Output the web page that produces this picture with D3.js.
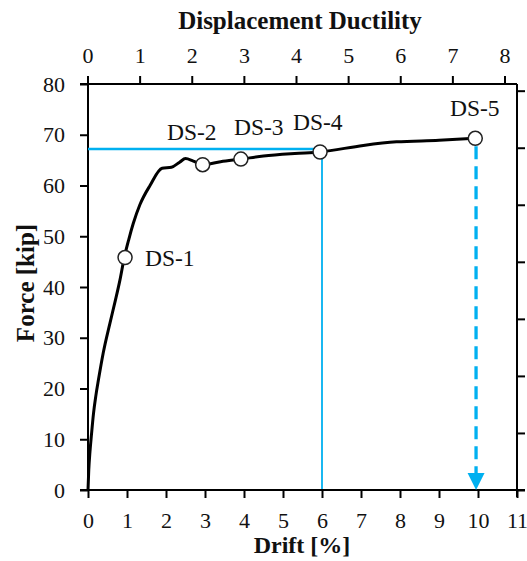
<!DOCTYPE html>
<html><head><meta charset="utf-8">
<script src="https://cdn.jsdelivr.net/npm/d3@7"></script>
<style>
body{margin:0;background:#fff}
svg{display:block}
text{font-family:"Liberation Serif","Times New Roman",serif;fill:#111}
</style>
</head><body><div id="chart"></div>
<script>
// ---- data ----
const driftTicks = [0,1,2,3,4,5,6,7,8,9,10,11];
const ductilityTicks = [0,1,2,3,4,5,6,7,8];
const forceTicks = [0,10,20,30,40,50,60,70,80];
const kNTicks = [0,50,100,150,200,250,300,350];
const curveDrift = [0,0.02,0.05,0.09,0.14,0.2,0.27,0.39,0.56,0.7,0.82,0.93,1.05,1.16,1.33,1.59,1.9,2.14,2.35,2.5,2.7,2.94,3.4,3.92,4.5,5.3,5.95,7.06,7.91,9.0,9.92];
const curveForce = [0,4,7.5,11,15,18.5,21.8,27,32.8,37.3,41.4,45.8,49.5,52.5,56.2,60.0,63.4,63.6,64.6,65.3,64.8,64.1,64.7,65.2,65.8,66.3,66.6,67.9,68.6,68.9,69.3];
const dsLabels = ["DS-1","DS-2","DS-3","DS-4","DS-5"];
const dsDrift = [0.95,2.94,3.92,5.95,9.93];
const dsForce = [45.8,64.1,65.2,66.6,69.3];
const yieldForce = 67.2;
const yieldDrift = 6;
const ultimateDrift = 9.95;

// ---- layout ----
const W = 527, H = 561;
const L = 88, R = 517, T = 84, B = 490;
const blue = "#00B0F0";

const svg = d3.select("#chart").append("svg").attr("width", W).attr("height", H);

const x = d3.scaleLinear().domain([0, 11]).range([L, R]);
const y = d3.scaleLinear().domain([0, 80]).range([B, T]);
const xTop = d3.scaleLinear().domain([0, 8]).range([87.5, 504.5]);
const yKN = d3.scaleLinear().domain([0, 80 * 4.44822]).range([B, T]);

function styleAxis(g, size) {
  g.select(".domain").remove();
  g.selectAll(".tick line").attr("stroke", "#000").attr("stroke-width", 2);
  g.selectAll(".tick text").attr("font-size", size).attr("fill", "#111")
    .attr("font-family", "'Liberation Serif','Times New Roman',serif");
}

// bottom axis
const gB = svg.append("g").attr("transform", `translate(0,${B})`)
  .call(d3.axisBottom(x).tickValues(driftTicks).tickSize(8).tickPadding(14));
styleAxis(gB, 22);
// top axis
const gT = svg.append("g").attr("transform", `translate(0,${T})`)
  .call(d3.axisTop(xTop).tickValues(ductilityTicks).tickSize(8).tickPadding(13));
styleAxis(gT, 22);
// left axis
const gL = svg.append("g").attr("transform", `translate(${L},0)`)
  .call(d3.axisLeft(y).tickValues(forceTicks).tickSize(8).tickPadding(15));
styleAxis(gL, 22);
// right axis (kN, no labels)
const gR = svg.append("g").attr("transform", `translate(${R},0)`)
  .call(d3.axisRight(yKN).tickValues(kNTicks).tickSize(8).tickFormat(""));
styleAxis(gR, 22);

// axis lines
svg.append("line").attr("x1", L - 8).attr("x2", R + 8).attr("y1", B).attr("y2", B).attr("stroke", "#000").attr("stroke-width", 2);
svg.append("line").attr("x1", L - 8).attr("x2", R).attr("y1", T).attr("y2", T).attr("stroke", "#000").attr("stroke-width", 2);
svg.append("line").attr("x1", L).attr("x2", L).attr("y1", T).attr("y2", B).attr("stroke", "#000").attr("stroke-width", 2);
svg.append("line").attr("x1", R).attr("x2", R).attr("y1", T).attr("y2", B + 7).attr("stroke", "#000").attr("stroke-width", 2);

// blue reference lines
svg.append("line").attr("x1", x(0)).attr("x2", x(yieldDrift)).attr("y1", y(yieldForce)).attr("y2", y(yieldForce))
  .attr("stroke", blue).attr("stroke-width", 2.6);
svg.append("line").attr("x1", x(yieldDrift)).attr("x2", x(yieldDrift)).attr("y1", y(yieldForce)).attr("y2", y(0) - 1)
  .attr("stroke", blue).attr("stroke-width", 1.8);

// dashed arrow
const arrowTop = y(0) - 17;
svg.append("line").attr("x1", x(ultimateDrift)).attr("x2", x(ultimateDrift))
  .attr("y1", y(dsForce[4]) + 8).attr("y2", arrowTop)
  .attr("stroke", blue).attr("stroke-width", 3.3).attr("stroke-dasharray", "13,7");
svg.append("path")
  .attr("d", `M${x(ultimateDrift) - 8.5},${arrowTop} L${x(ultimateDrift) + 8.5},${arrowTop} L${x(ultimateDrift)},${y(0)} Z`)
  .attr("fill", blue);

// curve
const pts = curveDrift.map((d, i) => [d, curveForce[i]]);
svg.append("path").datum(pts)
  .attr("d", d3.line().x(d => x(d[0])).y(d => y(d[1])).curve(d3.curveMonotoneX))
  .attr("fill", "none").attr("stroke", "#000").attr("stroke-width", 3).attr("stroke-linejoin", "round");

// damage state markers
svg.selectAll("circle.ds").data(dsDrift).enter().append("circle")
  .attr("cx", d => x(d)).attr("cy", (d, i) => y(dsForce[i])).attr("r", 7)
  .attr("fill", "#fff").attr("stroke", "#222").attr("stroke-width", 1.5);

// DS labels
const labelPos = [[145, 266], [167, 140], [234, 135], [293, 130], [450, 116]];
svg.selectAll("text.ds").data(dsLabels).enter().append("text")
  .attr("x", (d, i) => labelPos[i][0]).attr("y", (d, i) => labelPos[i][1])
  .attr("font-size", 23.5).text(d => d);

// titles
svg.append("text").attr("x", 300).attr("y", 29).attr("text-anchor", "middle")
  .attr("font-size", 25).attr("font-weight", "bold").text("Displacement Ductility");
svg.append("text").attr("x", 302).attr("y", 553).attr("text-anchor", "middle")
  .attr("font-size", 24).attr("font-weight", "bold").text("Drift [%]");
svg.append("text").attr("transform", "translate(34,283) rotate(-90)").attr("text-anchor", "middle")
  .attr("font-size", 25).attr("font-weight", "bold").text("Force [kip]");
</script></body></html>
